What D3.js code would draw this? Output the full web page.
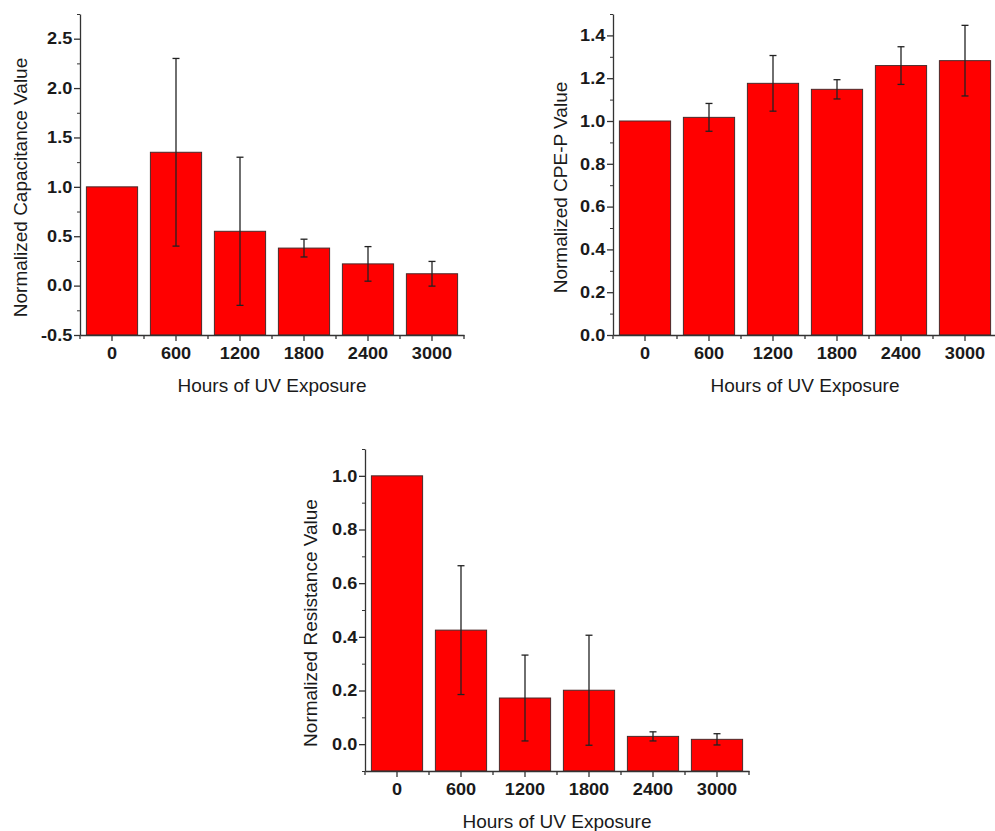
<!DOCTYPE html>
<html>
<head>
<meta charset="utf-8">
<script src="https://cdn.jsdelivr.net/npm/d3@7"></script>
<style>
  body { margin: 0; background: #fff; }
  svg { display: block; }
</style>
</head>
<body>
<svg width="995" height="831"></svg>
<script>
// hours of UV exposure (categories)
var hours = ["0", "600", "1200", "1800", "2400", "3000"];

// normalized capacitance
var capValues = [1.0, 1.35, 0.55, 0.38, 0.22, 0.12];
var capErrors = [0, 0.95, 0.75, 0.09, 0.175, 0.125];
var capTicks = [-0.5, 0, 0.5, 1.0, 1.5, 2.0, 2.5];
var capMinor = [-0.25, 0.25, 0.75, 1.25, 1.75, 2.25, 2.75];

// normalized CPE-P
var cpeValues = [1.0, 1.017, 1.176, 1.148, 1.259, 1.282];
var cpeErrors = [0, 0.065, 0.13, 0.045, 0.088, 0.165];
var cpeTicks = [0, 0.2, 0.4, 0.6, 0.8, 1.0, 1.2, 1.4];
var cpeMinor = [0.1, 0.3, 0.5, 0.7, 0.9, 1.1, 1.3, 1.5];

// normalized resistance
var resValues = [1.0, 0.425, 0.172, 0.201, 0.029, 0.018];
var resErrors = [0, 0.24, 0.16, 0.205, 0.017, 0.021];
var resTicks = [0, 0.2, 0.4, 0.6, 0.8, 1.0];
var resMinor = [-0.1, 0.1, 0.3, 0.5, 0.7, 0.9, 1.1];

var FONT = '"Liberation Sans", Arial, sans-serif';
var svg = d3.select('svg');

function drawChart(opt) {
    var x = d3.scaleBand()
        .domain(hours)
        .range([opt.left, opt.right])
        .paddingInner(0.2)
        .paddingOuter(0.1);
    var y = d3.scaleLinear()
        .domain(opt.domain)
        .range([opt.bottom, opt.top]);

    var g = svg.append('g');
    var rows = hours.map(function(h, i) {
        return { h: h, v: opt.values[i], e: opt.errors[i] };
    });

    // bars start at the bottom of the axis
    g.selectAll('rect.bar').data(rows).enter()
        .append('rect')
        .attr('class', 'bar')
        .attr('x', function(d) { return x(d.h); })
        .attr('width', x.bandwidth())
        .attr('y', function(d) { return y(d.v); })
        .attr('height', function(d) { return y(opt.domain[0]) - y(d.v); })
        .style('fill', '#ff0000')
        .style('stroke', '#4a2a2a')
        .style('stroke-width', 1);

    // error bars
    var eb = g.selectAll('g.err').data(rows.filter(function(d) { return d.e > 0; }))
        .enter().append('g').attr('class', 'err')
        .style('stroke', '#222')
        .style('stroke-width', 1.3);
    var cx = function(d) { return x(d.h) + x.bandwidth() / 2; };
    eb.append('line')
        .attr('x1', cx).attr('x2', cx)
        .attr('y1', function(d) { return y(d.v - d.e); })
        .attr('y2', function(d) { return y(d.v + d.e); });
    [-1, 1].forEach(function(s) {
        eb.append('line')
            .attr('x1', function(d) { return cx(d) - 3.5; })
            .attr('x2', function(d) { return cx(d) + 3.5; })
            .attr('y1', function(d) { return y(d.v + s * d.e); })
            .attr('y2', function(d) { return y(d.v + s * d.e); });
    });

    // x axis: major ticks at centres, minor at band edges
    var xAxis = g.append('g')
        .attr('transform', 'translate(0,' + opt.bottom + ')')
        .call(d3.axisBottom(x).tickSize(6).tickSizeOuter(0).tickPadding(6));
    var edges = d3.range(hours.length + 1).map(function(i) { return opt.left + i * x.step(); });
    xAxis.selectAll('line.minor').data(edges).enter()
        .append('line').attr('class', 'minor')
        .attr('x1', function(d) { return d; }).attr('x2', function(d) { return d; })
        .attr('y1', 0).attr('y2', 4)
        .attr('stroke', 'currentColor');

    // y axis
    var fmt = function(d) { return d.toFixed(1); };
    var yAxis = g.append('g')
        .attr('transform', 'translate(' + opt.left + ',0)')
        .call(d3.axisLeft(y).tickValues(opt.ticks).tickFormat(fmt).tickSize(6).tickSizeOuter(0).tickPadding(1));
    g.append('g')
        .attr('transform', 'translate(' + opt.left + ',0)')
        .style('color', '#333')
        .call(d3.axisLeft(y).tickValues(opt.minor).tickFormat('').tickSize(3).tickSizeOuter(0))
        .select('.domain').remove();

    [xAxis, yAxis].forEach(function(a) {
        a.style('color', '#333');
        a.selectAll('line, path').style('stroke-width', 1.3);
        a.selectAll('.tick text')
            .attr('transform', 'scale(1.1,1)')
            .style('font-family', FONT)
            .style('font-weight', 'bold')
            .style('font-size', '16.5px')
            .style('fill', '#1a1a1a');
    });

    // titles
    g.append('text')
        .attr('text-anchor', 'middle')
        .attr('x', (opt.left + opt.right) / 2)
        .attr('y', opt.bottom + 57)
        .style('font-family', FONT)
        .style('font-size', '19px')
        .style('fill', '#1a1a1a')
        .text('Hours of UV Exposure');
    g.append('text')
        .attr('text-anchor', 'middle')
        .attr('dominant-baseline', 'central')
        .attr('transform', 'translate(' + opt.titleX + ',' + ((opt.top + opt.bottom) / 2 + 13) + ') rotate(-90)')
        .style('font-family', FONT)
        .style('font-size', '19px')
        .style('fill', '#1a1a1a')
        .text(opt.label);
}

drawChart({
    values: capValues, errors: capErrors, ticks: capTicks, minor: capMinor,
    domain: [-0.5, 2.75], label: 'Normalized Capacitance Value',
    left: 80, right: 464, top: 14, bottom: 335, titleX: 20
});

drawChart({
    values: cpeValues, errors: cpeErrors, ticks: cpeTicks, minor: cpeMinor,
    domain: [0, 1.5], label: 'Normalized CPE-P Value',
    left: 613, right: 997, top: 14, bottom: 335, titleX: 560
});

drawChart({
    values: resValues, errors: resErrors, ticks: resTicks, minor: resMinor,
    domain: [-0.1, 1.1], label: 'Normalized Resistance Value',
    left: 365, right: 749, top: 449, bottom: 771, titleX: 310
});
</script>
</body>
</html>
